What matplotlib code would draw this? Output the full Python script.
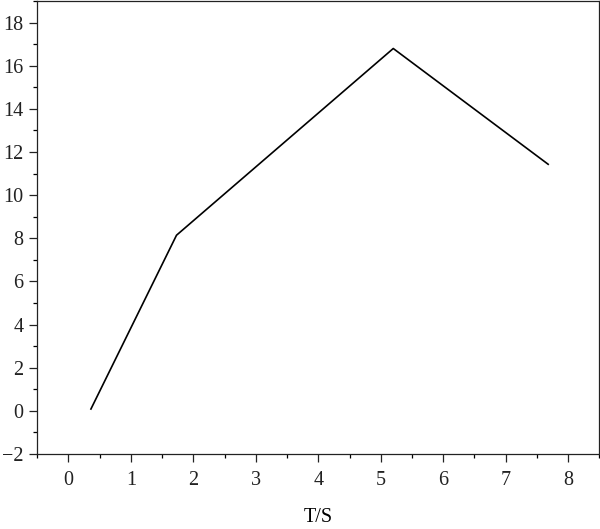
import matplotlib
matplotlib.use("Agg")
import matplotlib.pyplot as plt
from matplotlib.ticker import MultipleLocator

# values
t = [0.36, 1.73, 5.2, 7.68]
v = [0.08, 8.14, 16.8, 11.43]

plt.rcParams['font.family'] = ['Liberation Serif', 'DejaVu Serif']

fig = plt.figure(figsize=(6, 5.29), dpi=100)
ax = fig.add_axes([0.062, 0.142, 0.937, 0.856])

ax.plot(t, v, color='black', linewidth=1.2)

ax.set_xlim(-0.5, 8.5)
ax.set_ylim(-2, 19)
ax.xaxis.set_major_locator(MultipleLocator(1))
ax.xaxis.set_minor_locator(MultipleLocator(0.5))
ax.yaxis.set_major_locator(MultipleLocator(2))
ax.yaxis.set_minor_locator(MultipleLocator(1))

ax.tick_params(which='major', direction='out', length=6, width=0.9, labelsize=14.5, colors='#222222')
ax.tick_params(which='minor', direction='out', length=3, width=0.9)
ax.tick_params(axis='x', pad=6)
ax.tick_params(axis='y', pad=4)

for s in ax.spines.values():
    s.set_linewidth(0.9)
    s.set_color('#222222')

ax.set_xlabel('T/S', fontsize=14.5, labelpad=13)

fig.savefig('out.png', dpi=100)
